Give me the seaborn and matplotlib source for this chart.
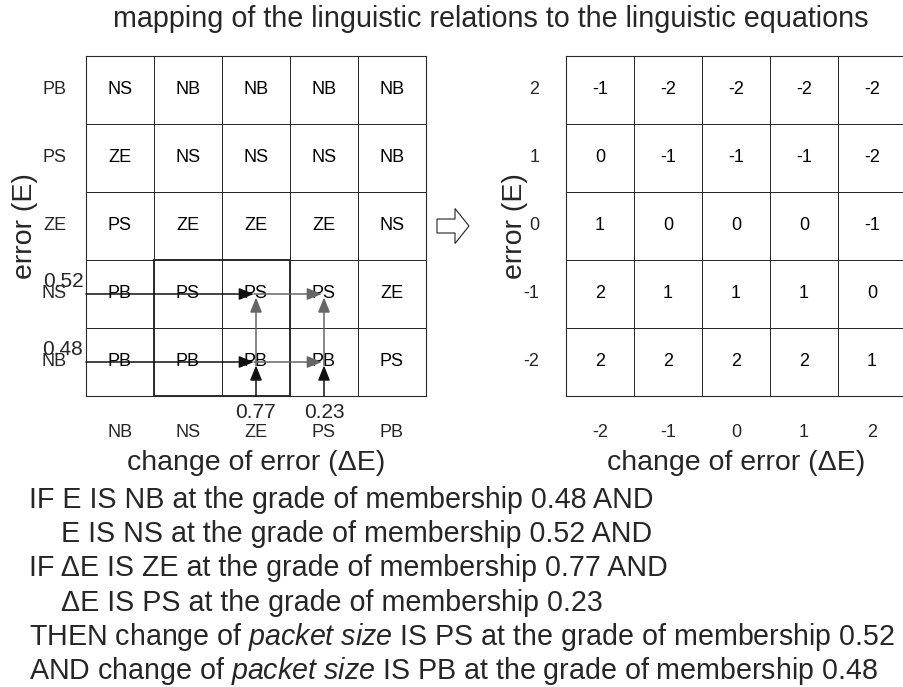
import numpy as np
import pandas as pd
import matplotlib
matplotlib.use("Agg")
import matplotlib.pyplot as plt
import seaborn as sns
from matplotlib.colors import ListedColormap
from matplotlib.patches import Rectangle, FancyArrow

# linguistic terms
de_terms = ["NB", "NS", "ZE", "PS", "PB"]   # change of error, left to right
e_terms = ["PB", "PS", "ZE", "NS", "NB"]    # error, top to bottom
term_values = [-2, -1, 0, 1, 2]             # numbers for NB..PB

# rule base, one row per error term (top to bottom)
rule_rows = [
    ["NS", "NB", "NB", "NB", "NB"],
    ["ZE", "NS", "NS", "NS", "NB"],
    ["PS", "ZE", "ZE", "ZE", "NS"],
    ["PB", "PS", "PS", "PS", "ZE"],
    ["PB", "PB", "PB", "PB", "PS"],
]

# fired terms with their grades of membership
e_fired = ["NS", "NB"]
e_grades = [0.52, 0.48]
de_fired = ["ZE", "PS"]
de_grades = [0.77, 0.23]
out_terms = ["PS", "PB"]
out_grades = [0.52, 0.48]

to_num = dict(zip(de_terms, term_values))
rules = pd.DataFrame(rule_rows, index=e_terms, columns=de_terms)
numbers = rules.map(to_num.get)

sns.set_style("white")
plt.rcParams["font.family"] = ["Liberation Sans", "DejaVu Sans"]
plt.rcParams["mathtext.fontset"] = "custom"
plt.rcParams["mathtext.rm"] = "Liberation Sans"
plt.rcParams["mathtext.it"] = "Liberation Sans:italic"

W, H = 904, 687
fig = plt.figure(figsize=(W / 100, H / 100), dpi=100)
white = ListedColormap(["white"])
line_col = "#2a2a2a"

ax1 = fig.add_axes([86 / W, 1 - 396 / H, 340 / W, 340 / H])
ax2 = fig.add_axes([566 / W, 1 - 396 / H, 340 / W, 340 / H])

sns.heatmap(numbers, annot=rules.values, fmt="", cmap=white, cbar=False,
            linewidths=0.6, linecolor=line_col,
            annot_kws=dict(fontsize=13, color="black"), ax=ax1)
sns.heatmap(numbers.values, annot=True, fmt="d", cmap=white, cbar=False,
            linewidths=0.6, linecolor=line_col,
            xticklabels=[to_num[t] for t in de_terms],
            yticklabels=[to_num[t] for t in e_terms],
            annot_kws=dict(fontsize=13, color="black"), ax=ax2)

for ax in (ax1, ax2):
    for sp in ax.spines.values():
        sp.set_visible(True)
        sp.set_linewidth(0.8)
        sp.set_color(line_col)
    ax.tick_params(length=0, labelsize=13)
    ax.tick_params(axis="x", pad=20, labelrotation=0)
    ax.tick_params(axis="y", labelrotation=0)
    ax.set_xlabel("change of error (ΔE)", fontsize=20.5, va="baseline")
    ax.set_ylabel("error (E)", fontsize=20.5, va="baseline")
    ax.xaxis.set_label_coords(0.5, -0.218)

ax1.tick_params(axis="y", pad=14)
ax2.tick_params(axis="y", pad=19)
ax1.yaxis.set_label_coords(-0.158, 0.5)
ax2.yaxis.set_label_coords(-0.129, 0.5)

# block of fired rules
rows_f = [e_terms.index(t) for t in e_fired]
cols_f = [de_terms.index(t) for t in de_fired]
ax1.add_patch(Rectangle((min(cols_f) - 1, min(rows_f)), 2, 2, fill=False,
                        lw=1.4, edgecolor=line_col, clip_on=False, zorder=3))

head = "-|>,head_length=0.45,head_width=0.18"
for r in rows_f:
    x0 = 0
    for k, c in enumerate(cols_f):
        col = "#111111" if k == 0 else "#666666"
        ax1.annotate("", xy=(c + 0.47, r + 0.5), xytext=(x0, r + 0.5),
                     arrowprops=dict(arrowstyle=head, color=col, lw=1.1,
                                     mutation_scale=20, shrinkA=0, shrinkB=0),
                     annotation_clip=False)
        x0 = c + 0.47
for c in cols_f:
    y0 = len(e_terms)
    for k, r in enumerate(sorted(rows_f, reverse=True)):
        col = "#111111" if k == 0 else "#666666"
        ax1.annotate("", xy=(c + 0.5, r + 0.55), xytext=(c + 0.5, y0),
                     arrowprops=dict(arrowstyle=head, color=col, lw=1.1,
                                     mutation_scale=20, shrinkA=0, shrinkB=0),
                     annotation_clip=False)
        y0 = r + 0.55

for t, g in zip(e_fired, e_grades):
    ax1.text(-0.04, e_terms.index(t) + 0.32, f"{g:.2f}", ha="right",
             va="center", fontsize=15)
for t, g in zip(de_fired, de_grades):
    ax1.text(de_terms.index(t) + 0.5, len(e_terms) + 0.24, f"{g:.2f}",
             ha="center", va="center", fontsize=15)

# mapping arrow between the two tables
fig.add_artist(FancyArrow(4.37, (H - 226) / 100, 0.32, 0, width=0.14,
                          head_width=0.35, head_length=0.14,
                          length_includes_head=True, facecolor="white",
                          edgecolor="#222222", lw=0.8,
                          transform=fig.dpi_scale_trans))

fig.text(490.5 / W, 1 - 19 / H,
         "mapping of the linguistic relations to the linguistic equations",
         ha="center", va="center", fontsize=20.7)

rule_lines = [
    (29, f"IF E IS {e_fired[1]} at the grade of membership {e_grades[1]:.2f} AND"),
    (61, f"E IS {e_fired[0]} at the grade of membership {e_grades[0]:.2f} AND"),
    (29, f"IF ΔE IS {de_fired[0]} at the grade of membership {de_grades[0]:.2f} AND"),
    (61, f"ΔE IS {de_fired[1]} at the grade of membership {de_grades[1]:.2f}"),
    (29, rf"THEN change of $\mathit{{packet\ size}}$ IS {out_terms[0]} at the grade of membership {out_grades[0]:.2f}"),
    (29, rf"AND change of $\mathit{{packet\ size}}$ IS {out_terms[1]} at the grade of membership {out_grades[1]:.2f}"),
]
for i, (x, s) in enumerate(rule_lines):
    fig.text(x / W, 1 - (508 + 34.2 * i) / H, s, ha="left", va="baseline",
             fontsize=20.6)

fig.savefig("out.png", dpi=100)
